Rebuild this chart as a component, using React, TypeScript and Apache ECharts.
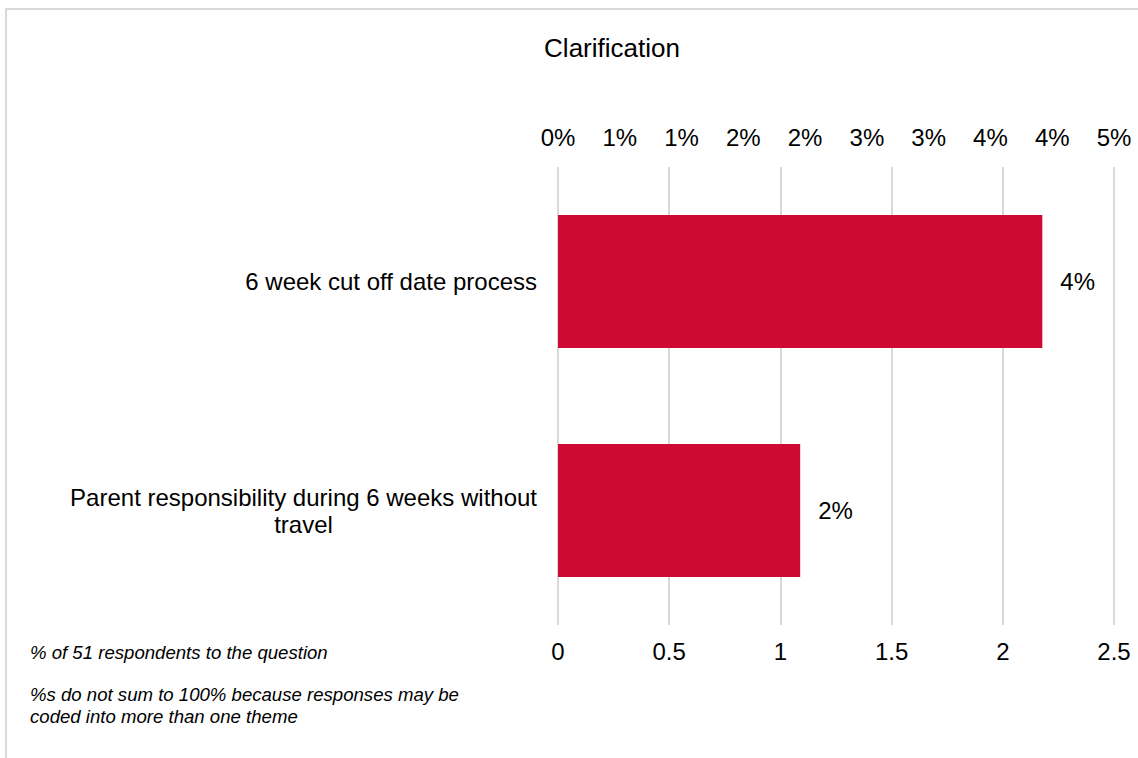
import React, { useEffect, useRef } from "react";
import * as echarts from "echarts";

const titleText = "Clarification";
const categories = [
  "6 week cut off date process",
  "Parent responsibility during 6 weeks without\ntravel",
];
const percentValues = [3.92, 1.96];
const topAxisMax = 4.5;
const topAxisInterval = 0.5;
const bottomAxisMax = 2.5;
const bottomAxisInterval = 0.5;
const footnote1 = "% of 51 respondents to the question";
const footnote2 = "%s do not sum to 100% because responses may be\ncoded into more than one theme";

const FONT = "'Liberation Sans', Arial, sans-serif";

export default function App() {
  const ref = useRef<HTMLDivElement>(null);
  useEffect(() => {
    if (!ref.current) return;
    const chart = echarts.init(ref.current, undefined, { renderer: "svg" });
    chart.setOption({
      animation: false,
      backgroundColor: "#ffffff",
      textStyle: { fontFamily: FONT },
      title: {
        text: titleText,
        left: 607,
        top: 30,
        textAlign: "center",
        textStyle: { fontFamily: FONT, fontSize: 26, fontWeight: "normal", color: "#000" },
      },
      grid: { left: 558, right: 24, top: 167, bottom: 133 },
      xAxis: [
        {
          type: "value",
          position: "top",
          min: 0,
          max: topAxisMax,
          interval: topAxisInterval,
          axisLine: { show: false },
          axisTick: { show: false },
          splitLine: { show: false },
          axisLabel: {
            margin: 18,
            fontFamily: FONT,
            fontSize: 24,
            color: "#000",
            formatter: (v: number) => Math.round(v) + "%",
          },
        },
        {
          type: "value",
          position: "bottom",
          min: 0,
          max: bottomAxisMax,
          interval: bottomAxisInterval,
          axisLine: { show: false },
          axisTick: { show: false },
          splitLine: { show: true, lineStyle: { color: "#d9d9d9", width: 2 } },
          axisLabel: {
            margin: 14,
            fontFamily: FONT,
            fontSize: 24,
            color: "#000",
          },
        },
      ],
      yAxis: {
        type: "category",
        data: categories,
        inverse: true,
        axisLine: { show: false },
        axisTick: { show: false },
        splitLine: { show: false },
        axisLabel: {
          margin: 21,
          fontFamily: FONT,
          fontSize: 24,
          color: "#000",
          lineHeight: 27,
          formatter: (v: string) =>
            v
              .split("\n")
              .map((s) => "{c|" + s + "}")
              .join("\n"),
          rich: {
            c: { align: "center", fontFamily: FONT, fontSize: 24, color: "#000", lineHeight: 27 },
          },
        },
      },
      series: [
        {
          type: "bar",
          xAxisIndex: 0,
          data: percentValues,
          barCategoryGap: "42%",
          itemStyle: { color: "#cf0a32" },
          label: {
            show: true,
            position: "right",
            distance: 18,
            fontFamily: FONT,
            fontSize: 24,
            color: "#000",
            formatter: (p: any) => Math.round(p.value) + "%",
          },
        },
      ],
      graphic: [
        {
          type: "rect",
          shape: { x: 6, y: 9, width: 1300, height: 900 },
          style: { fill: "none", stroke: "#d9d9d9", lineWidth: 2 },
          silent: true,
          z: -1,
        },
        {
          type: "text",
          x: 30,
          y: 652,
          style: {
            text: footnote1,
            fontFamily: FONT,
            fontSize: 18.6,
            fontStyle: "italic",
            fill: "#000",
            verticalAlign: "middle",
          },
        },
        {
          type: "text",
          x: 30,
          y: 683,
          style: {
            text: footnote2,
            fontFamily: FONT,
            fontSize: 18.6,
            fontStyle: "italic",
            fill: "#000",
            lineHeight: 22,
            verticalAlign: "top",
          },
        },
      ],
    });
    return () => chart.dispose();
  }, []);
  return (
    <div
      ref={ref}
      style={{ position: "absolute", left: 0, top: 0, width: 1138, height: 758 }}
    />
  );
}
